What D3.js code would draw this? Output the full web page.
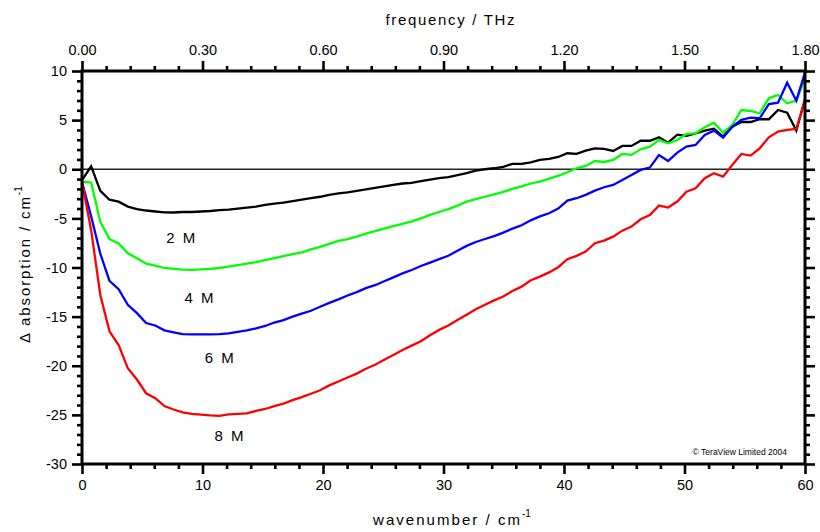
<!DOCTYPE html>
<html>
<head>
<meta charset="utf-8">
<script src="https://cdn.jsdelivr.net/npm/d3@7/dist/d3.min.js"></script>
<style>
  html, body { margin: 0; padding: 0; background: #fff; }
  svg { display: block; font-family: "Liberation Sans", Arial, sans-serif; }
</style>
</head>
<body>
<svg id="chart" width="820" height="532"></svg>
<script>
// ---- data ----
const wavenumber = [0, 0.76, 1.52, 2.28, 3.04, 3.8, 4.56, 5.32, 6.08, 6.84, 7.6, 8.36, 9.12, 9.88, 10.64, 11.4, 12.16, 12.92, 13.68, 14.44,
  15.2, 15.96, 16.72, 17.48, 18.24, 19.0, 19.76, 20.52, 21.28, 22.04, 22.8, 23.56, 24.32, 25.08, 25.84, 26.6, 27.36, 28.12, 28.88, 29.64,
  30.4, 31.16, 31.92, 32.68, 33.44, 34.2, 34.96, 35.72, 36.48, 37.24, 38.0, 38.76, 39.52, 40.28, 41.04, 41.8, 42.56, 43.32, 44.08, 44.84,
  45.6, 46.36, 47.12, 47.88, 48.64, 49.4, 50.16, 50.92, 51.68, 52.44, 53.2, 53.96, 54.72, 55.48, 56.24, 57.0, 57.76, 58.52, 59.28, 60];

const conc2M = [-1.1, 0.3, -2.2, -3.1, -3.3, -3.8, -4.05, -4.2, -4.3, -4.38, -4.4, -4.35, -4.35, -4.3, -4.25, -4.15, -4.1, -4.0, -3.9, -3.8,
  -3.62, -3.5, -3.4, -3.25, -3.1, -2.95, -2.8, -2.6, -2.45, -2.35, -2.2, -2.05, -1.9, -1.75, -1.6, -1.45, -1.38, -1.2, -1.05, -0.9,
  -0.8, -0.6, -0.4, -0.15, 0.0, 0.1, 0.25, 0.55, 0.55, 0.7, 0.95, 1.05, 1.25, 1.63, 1.56, 1.9, 2.13, 2.07, 1.86, 2.37,
  2.37, 2.9, 2.9, 3.25, 2.71, 3.52, 3.39, 3.66, 3.93, 4.13, 3.32, 4.33, 4.81, 4.81, 5.09, 5.09, 6.03, 5.76, 3.93, 7.12];

const conc4M = [-1.25, -1.36, -5.35, -7.1, -7.55, -8.55, -9.05, -9.6, -9.8, -10.05, -10.15, -10.22, -10.24, -10.2, -10.15, -10.05, -9.9, -9.75, -9.6, -9.45,
  -9.25, -9.05, -8.85, -8.65, -8.45, -8.15, -7.9, -7.6, -7.3, -7.1, -6.85, -6.55, -6.3, -6.05, -5.8, -5.55, -5.3, -5.0, -4.65, -4.35,
  -4.05, -3.7, -3.3, -3.05, -2.8, -2.55, -2.3, -2.0, -1.75, -1.45, -1.25, -0.95, -0.68, -0.3, 0.1, 0.34, 0.84, 0.74, 0.95, 1.56,
  1.46, 2.03, 2.3, 2.98, 2.64, 2.98, 3.59, 3.66, 4.27, 4.74, 3.72, 4.5, 6.03, 5.93, 5.7, 7.22, 7.56, 6.71, 6.98, 9.26];

const conc6M = [-1.3, -4.8, -8.6, -11.35, -12.2, -13.8, -14.65, -15.65, -15.9, -16.4, -16.6, -16.78, -16.8, -16.8, -16.8, -16.78, -16.7, -16.55, -16.4, -16.2,
  -15.95, -15.6, -15.35, -15.0, -14.7, -14.4, -14.0, -13.6, -13.25, -12.85, -12.5, -12.1, -11.8, -11.4, -11.0, -10.6, -10.25, -9.85, -9.5, -9.15,
  -8.8, -8.3, -7.8, -7.4, -7.1, -6.8, -6.45, -6.05, -5.7, -5.2, -4.8, -4.48, -4.0, -3.19, -2.95, -2.61, -2.18, -1.83, -1.6, -1.09,
  -0.58, -0.07, 0.17, 1.45, 0.84, 1.69, 2.3, 2.47, 3.49, 3.93, 3.22, 4.33, 5.02, 5.25, 5.19, 6.64, 6.78, 8.81, 6.98, 9.83];

const conc8M = [-1.3, -6.2, -12.8, -16.5, -17.9, -20.25, -21.4, -22.8, -23.3, -24.1, -24.45, -24.75, -24.9, -24.97, -25.05, -25.1, -24.95, -24.9, -24.85, -24.6,
  -24.4, -24.1, -23.85, -23.5, -23.2, -22.85, -22.5, -22.0, -21.6, -21.2, -20.8, -20.3, -19.9, -19.4, -18.9, -18.4, -17.95, -17.5, -16.9, -16.35,
  -15.9, -15.35, -14.8, -14.25, -13.8, -13.35, -12.95, -12.4, -11.95, -11.3, -10.93, -10.5, -9.97, -9.16, -8.82, -8.38, -7.53, -7.26, -6.86, -6.25,
  -5.84, -5.09, -4.65, -3.7, -3.9, -3.29, -2.28, -1.94, -0.92, -0.41, -0.75, 0.44, 1.56, 1.39, 2.13, 3.25, 3.83, 4.0, 4.1, 7.05];

const seriesNames = ["2 M", "4 M", "6 M", "8 M"];
const seriesColors = ["#000000", "#00ff00", "#0000ff", "#ff0000"];
const seriesValues = [conc2M, conc4M, conc6M, conc8M];
// label anchor points in data units (wavenumber, absorption)
const labelX = [8.2, 9.7, 11.4, 12.2];
const labelY = [-7.5, -13.6, -19.7, -27.7];

const xMajorTicks = [0, 10, 20, 30, 40, 50, 60];
const yMajorTicks = [-30, -25, -20, -15, -10, -5, 0, 5, 10];
const thzMajorTicks = [0, 0.3, 0.6, 0.9, 1.2, 1.5, 1.8];

// ---- layout ----
const svg = d3.select("#chart");
const x = d3.scaleLinear().domain([0, 60]).range([82, 805]);
const xT = d3.scaleLinear().domain([0, 1.8]).range([82, 805]);
const y = d3.scaleLinear().domain([-30, 10]).range([464, 71]);

const X0 = x.range()[0], X1 = x.range()[1], Y0 = y.range()[0], Y1 = y.range()[1];
const MAJ = 10, MIN = 5, TW = 2.6;
const intFmt = d => String(d);          // plain hyphen-minus, as in the reference
const thzFmt = d => d.toFixed(2);

const xMinor = d3.range(0, 61, 2).filter(v => !xMajorTicks.includes(v));
const yMinor = d3.range(-30, 11, 1).filter(v => !yMajorTicks.includes(v));
const tMinor = d3.range(0, 31).map(i => +(i * 0.06).toFixed(2)).filter(v => !thzMajorTicks.some(m => Math.abs(m - v) < 1e-6));

function styleAxis(g) {
  g.select(".domain").remove();
  g.selectAll(".tick line").attr("stroke", "#000").attr("stroke-width", TW);
  g.selectAll(".tick text").attr("font-size", 14.5).attr("fill", "#000")
    .attr("font-family", '"Liberation Sans", Arial, sans-serif');
}

// bottom
svg.append("g").attr("transform", `translate(0,${Y0})`)
  .call(d3.axisBottom(x).tickValues(xMajorTicks).tickSize(MAJ).tickPadding(6).tickFormat(intFmt))
  .call(styleAxis);
svg.append("g").attr("transform", `translate(0,${Y0})`)
  .call(d3.axisBottom(x).tickValues(xMinor).tickSize(MIN).tickFormat(""))
  .call(styleAxis);
// top
svg.append("g").attr("transform", `translate(0,${Y1})`)
  .call(d3.axisTop(xT).tickValues(thzMajorTicks).tickSize(MAJ).tickPadding(6).tickFormat(thzFmt))
  .call(styleAxis);
svg.append("g").attr("transform", `translate(0,${Y1})`)
  .call(d3.axisTop(xT).tickValues(tMinor).tickSize(MIN).tickFormat(""))
  .call(styleAxis);
// left
svg.append("g").attr("transform", `translate(${X0},0)`)
  .call(d3.axisLeft(y).tickValues(yMajorTicks).tickSize(MAJ).tickPadding(5).tickFormat(intFmt))
  .call(styleAxis);
svg.append("g").attr("transform", `translate(${X0},0)`)
  .call(d3.axisLeft(y).tickValues(yMinor).tickSize(MIN).tickFormat(""))
  .call(styleAxis);
// right
svg.append("g").attr("transform", `translate(${X1},0)`)
  .call(d3.axisRight(y).tickValues(yMajorTicks).tickSize(MAJ).tickFormat(""))
  .call(styleAxis);
svg.append("g").attr("transform", `translate(${X1},0)`)
  .call(d3.axisRight(y).tickValues(yMinor).tickSize(MIN).tickFormat(""))
  .call(styleAxis);

// zero line
svg.append("line")
  .attr("x1", X0).attr("x2", X1).attr("y1", y(0)).attr("y2", y(0))
  .attr("stroke", "#222").attr("stroke-width", 1.3);

// series
const line = d3.line().x((d, i) => x(wavenumber[i])).y(d => y(d));
seriesValues.forEach((vals, k) => {
  svg.append("path").datum(vals)
    .attr("d", line)
    .attr("fill", "none")
    .attr("stroke", seriesColors[k])
    .attr("stroke-width", 2.3)
    .attr("stroke-linejoin", "miter");
});

// frame
svg.append("rect")
  .attr("x", X0).attr("y", Y1).attr("width", X1 - X0).attr("height", Y0 - Y1)
  .attr("fill", "none").attr("stroke", "#000").attr("stroke-width", 3);

// series labels
seriesNames.forEach((name, k) => {
  svg.append("text")
    .attr("x", x(labelX[k])).attr("y", y(labelY[k]))
    .attr("text-anchor", "middle").attr("font-size", 15).attr("fill", "#000")
    .attr("textLength", 29).attr("lengthAdjust", "spacing")
    .text(name);
});

// copyright
svg.append("text")
  .attr("x", x(58.5)).attr("y", y(-29.1))
  .attr("text-anchor", "end").attr("font-size", 8.5).attr("fill", "#000")
  .text("© TeraView Limited 2004");

// top title
svg.append("text")
  .attr("x", 450).attr("y", 25)
  .attr("text-anchor", "middle").attr("font-size", 15).attr("fill", "#000")
  .attr("textLength", 129).attr("lengthAdjust", "spacing")
  .text("frequency / THz");

// bottom title
const xl = svg.append("text")
  .attr("x", 373).attr("y", 525)
  .attr("text-anchor", "start").attr("font-size", 15).attr("fill", "#000");
xl.append("tspan").attr("textLength", 147).attr("lengthAdjust", "spacing").text("wavenumber / cm");
xl.append("tspan").attr("dy", -8).attr("font-size", 10).text("-1");

// left title
const yl = svg.append("text")
  .attr("transform", "translate(30,343) rotate(-90)")
  .attr("text-anchor", "start").attr("font-size", 15).attr("fill", "#000");
yl.append("tspan").attr("textLength", 146).attr("lengthAdjust", "spacing").text("Δ absorption / cm");
yl.append("tspan").attr("dy", -8).attr("font-size", 10).text("-1");
</script>
</body>
</html>
